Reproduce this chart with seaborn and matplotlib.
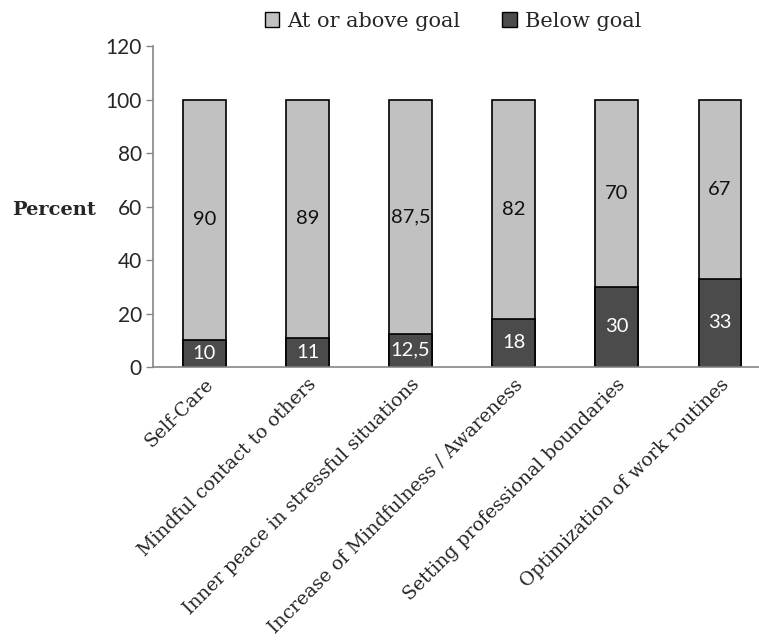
import matplotlib
matplotlib.use('Agg')
import matplotlib.pyplot as plt
import seaborn as sns
import pandas as pd
from matplotlib.patches import Patch

sns.set_style('white')

categories = ['Self-Care', 'Mindful contact to others', 'Inner peace in stressful situations',
              'Increase of Mindfulness / Awareness', 'Setting professional boundaries',
              'Optimization of work routines']
below_goal = [10, 11, 12.5, 18, 30, 33]
at_or_above = [90, 89, 87.5, 82, 70, 67]
below_labels = ['10', '11', '12,5', '18', '30', '33']
above_labels = ['90', '89', '87,5', '82', '70', '67']
yticks = [0, 20, 40, 60, 80, 100, 120]

df = pd.DataFrame({'category': categories, 'below': below_goal, 'above': at_or_above})
df['total'] = df['below'] + df['above']

light = '#c0c1c0'
dark = '#4b4b4b'
sans = ['Lato', 'DejaVu Sans']
serif = ['DejaVu Serif']

fig = plt.figure(figsize=(7.59, 6.41), dpi=100)
ax = fig.add_axes([0.2016, 0.4275, 0.8144, 0.5005])

sns.barplot(data=df, x='category', y='total', color=light, edgecolor='black',
            linewidth=1.2, width=0.41, saturation=1, ax=ax)
sns.barplot(data=df, x='category', y='below', color=dark, edgecolor='black',
            linewidth=1.2, width=0.41, saturation=1, ax=ax)

c_total, c_below = ax.containers[0], ax.containers[1]
for i, rect in enumerate(c_total):
    x = rect.get_x() + rect.get_width() / 2
    ax.text(x, below_goal[i] + at_or_above[i] / 2, above_labels[i], ha='center', va='center',
            fontsize=14.5, family=sans, color='#111111')
ax.bar_label(c_below, labels=below_labels, label_type='center', fontsize=14.5,
             family=sans, color='white')

ax.set_ylim(0, 120)
ax.set_xlim(-0.5, 5.5)
ax.set_yticks(yticks)
ax.set_yticklabels([str(t) for t in yticks], family=sans, fontsize=15)
ax.set_xticks(range(len(categories)))
ax.set_xticklabels(categories, rotation=45, ha='right', rotation_mode='anchor',
                   family=serif, fontsize=13.6)
ax.set_xticks([i - 0.5 for i in range(len(categories))], minor=True)
ax.tick_params(axis='x', which='major', length=0, pad=6)
ax.tick_params(axis='x', which='minor', length=5, color='#868686', width=1)
ax.tick_params(axis='y', length=5, color='#868686', width=1, left=True, pad=3)
ax.set_xlabel('')
ax.set_ylabel('Percent', rotation=0, fontsize=14, family=serif, fontweight='bold',
              ha='center', va='center')
ax.yaxis.set_label_coords(-0.16, 0.49)

sns.despine(ax=ax)
for s in ['left', 'bottom']:
    ax.spines[s].set_color('#868686')
    ax.spines[s].set_linewidth(1.2)

handles = [Patch(facecolor=light, edgecolor='black', label='At or above goal'),
           Patch(facecolor=dark, edgecolor='black', label='Below goal')]
fig.legend(handles=handles, loc='center', bbox_to_anchor=(0.597, 0.967), ncol=2,
           frameon=False, prop={'family': serif, 'size': 15}, handlelength=0.7,
           handleheight=0.7, handletextpad=0.4, columnspacing=2.0)

fig.savefig('out.png', dpi=100)
